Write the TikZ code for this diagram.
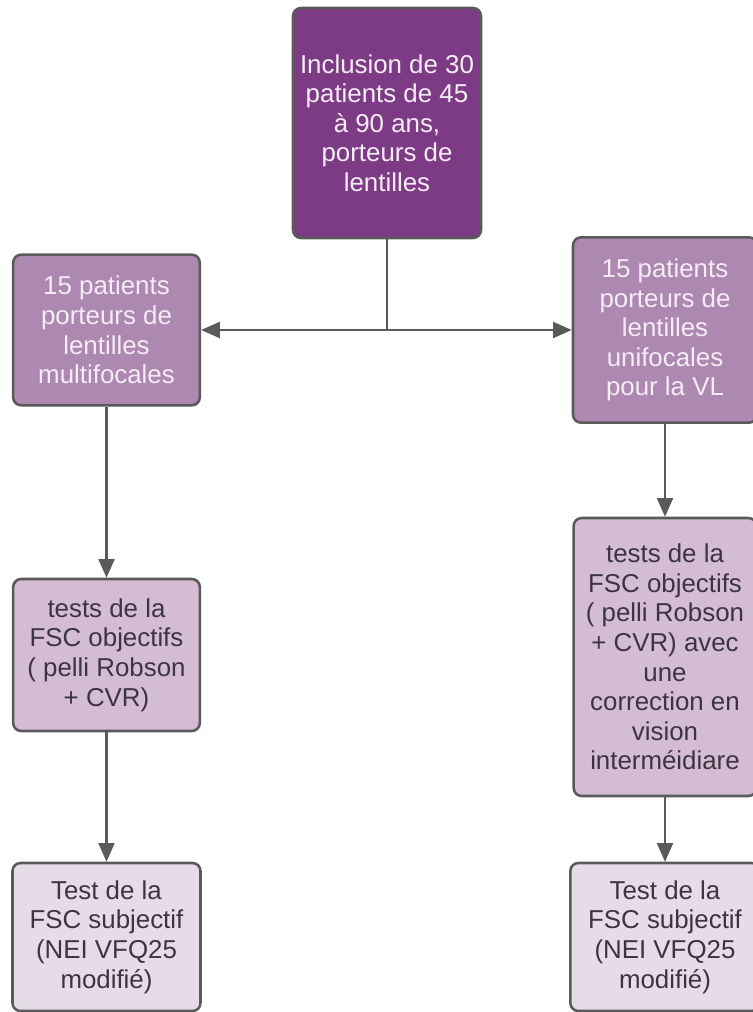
\documentclass[tikz,border=0pt]{standalone}
\usepackage{fontspec}
\setmainfont{Liberation Sans}
\usetikzlibrary{arrows.meta}

\definecolor{darkplum}{HTML}{7E3B85}
\definecolor{midplum}{HTML}{AD88B0}
\definecolor{lightplum}{HTML}{D4BCD5}
\definecolor{paleplum}{HTML}{E6DCE8}
\definecolor{linegray}{HTML}{5A5A5A}
\definecolor{darktext}{HTML}{3C3440}
\definecolor{lighttext}{HTML}{F6ECF6}

\tikzset{
  box/.style={draw=linegray, line width=1.9pt, rounded corners=6pt, align=center,
    inner sep=0pt, font=\fontsize{19.4}{22.2}\selectfont},
  link/.style={draw=linegray, line width=1.6pt, -{Triangle[length=14pt,width=12pt]}}
}

\begin{document}
\begin{tikzpicture}[x=0.75pt, y=-0.75pt, line join=round]
\useasboundingbox (0,0) rectangle (752,1012);

% Top
\node[box, fill=darkplum, text=lighttext, minimum width=141pt, minimum height=172.5pt] (incl) at (387,123)
  {Inclusion de 30\\patients de 45\\à 90 ans,\\porteurs de\\lentilles};

% Groups
\node[box, fill=midplum, text=lighttext, minimum width=140pt, minimum height=113pt] (multi) at (106.5,330)
  {15 patients\\porteurs de\\lentilles\\multifocales};
\node[box, fill=midplum, text=lighttext, minimum width=138pt, minimum height=139pt] (unif) at (665,330)
  {15 patients\\porteurs de\\lentilles\\unifocales\\pour la VL};

% Objective tests
\node[box, fill=lightplum, text=darktext, minimum width=137pt, minimum height=208.5pt] (objR) at (665,657)
  {tests de la\\FSC objectifs\\( pelli Robson\\+ CVR) avec\\une\\correction en\\vision\\interméidiare};
\node[box, fill=lightplum, text=darktext, minimum width=140pt, minimum height=114pt] (objL) at (106.5,655)
  {tests de la\\FSC objectifs\\( pelli Robson\\+ CVR)};

% Subjective tests
\node[box, fill=paleplum, text=darktext, minimum width=141pt, minimum height=111pt] (subL) at (106.5,937)
  {Test de la\\FSC subjectif\\(NEI VFQ25\\modifié)};
\node[box, fill=paleplum, text=darktext, minimum width=142pt, minimum height=111pt] (subR) at (665,937)
  {Test de la\\FSC subjectif\\(NEI VFQ25\\modifié)};

% Connections
\draw[link] (incl.south) |- (multi.east);
\draw[link] (incl.south) |- (unif.west);
\draw[link] (multi) -- (objL);
\draw[link] (objL) -- (subL);
\draw[link] (unif) -- (objR);
\draw[link] (objR) -- (subR);

\end{tikzpicture}
\end{document}
